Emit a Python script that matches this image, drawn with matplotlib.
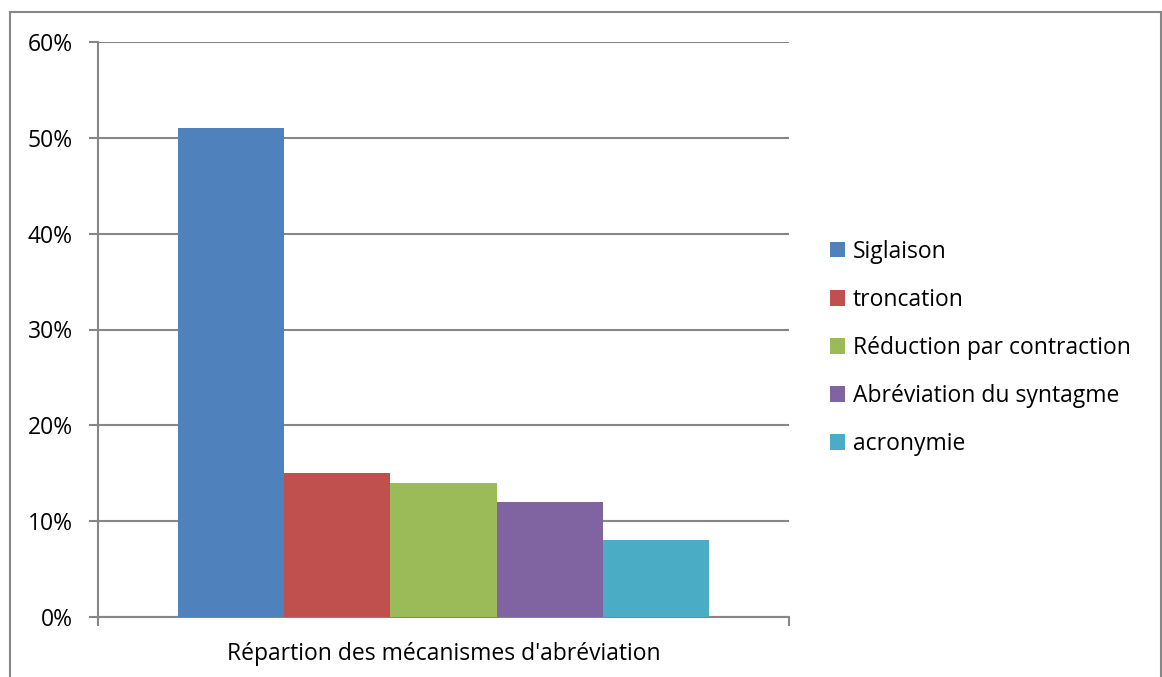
import matplotlib.pyplot as plt
from matplotlib.patches import Rectangle
from matplotlib.ticker import PercentFormatter

plt.rcParams['font.family'] = ['Open Sans', 'DejaVu Sans']

# Répartition des mécanismes d'abréviation
mecanismes = ['Siglaison', 'troncation', 'Réduction par contraction',
              'Abréviation du syntagme', 'acronymie']
parts = [0.51, 0.15, 0.14, 0.12, 0.08]
couleurs = ['#4F81BD', '#C0504D', '#9BBB59', '#8064A2', '#4BACC6']
categorie = "Répartion des mécanismes d'abréviation"

W, H = 1162, 677
taille = 16.5
fig = plt.figure(figsize=(W / 100, H / 100), dpi=100)
ax = fig.add_axes([98 / W, 1 - 617 / H, (789 - 98) / W, (617 - 42) / H])

# gap width 150 % comme dans Excel
largeur = 1 / 6.5
debut = 0.75 * largeur
for i, (nom, val, c) in enumerate(zip(mecanismes, parts, couleurs)):
    ax.bar(debut + i * largeur, val, width=largeur, align='edge',
           color=c, label=nom, zorder=3)

grille = '#868686'
ax.set_xlim(0, 1)
ax.set_ylim(0, 0.6)
ax.set_yticks([0, 0.1, 0.2, 0.3, 0.4, 0.5, 0.6])
ax.yaxis.set_major_formatter(PercentFormatter(1.0, decimals=0))
ax.grid(axis='y', color=grille, linewidth=1.5, zorder=0)
ax.set_xticks([0, 1])
ax.set_xticklabels(['', ''])
ax.tick_params(axis='y', length=6.5, width=1.5, color=grille, labelsize=taille, pad=11.5)
ax.tick_params(axis='x', length=6.5, width=1.5, color=grille, direction='out')
for cote in ['top', 'right']:
    ax.spines[cote].set_visible(False)
for cote in ['left', 'bottom']:
    ax.spines[cote].set_color(grille)
    ax.spines[cote].set_linewidth(1.5)

ax.text(0.5, -0.065, categorie, transform=ax.transAxes, ha='center', va='center',
        fontsize=taille)

fig.legend(loc='center left', bbox_to_anchor=(809 / W, 1 - 348 / H), frameon=False,
           fontsize=taille, handlelength=0.65, handleheight=0.65, handletextpad=0.35,
           labelspacing=1.05)

# cadre autour du graphique
fig.patches.append(Rectangle((9.5 / W, -0.05), (1160.5 - 9.5) / W, 1.05 - 11.5 / H,
                             transform=fig.transFigure, fill=False,
                             edgecolor='#878787', linewidth=1.5))

fig.savefig('out.png', dpi=100)
